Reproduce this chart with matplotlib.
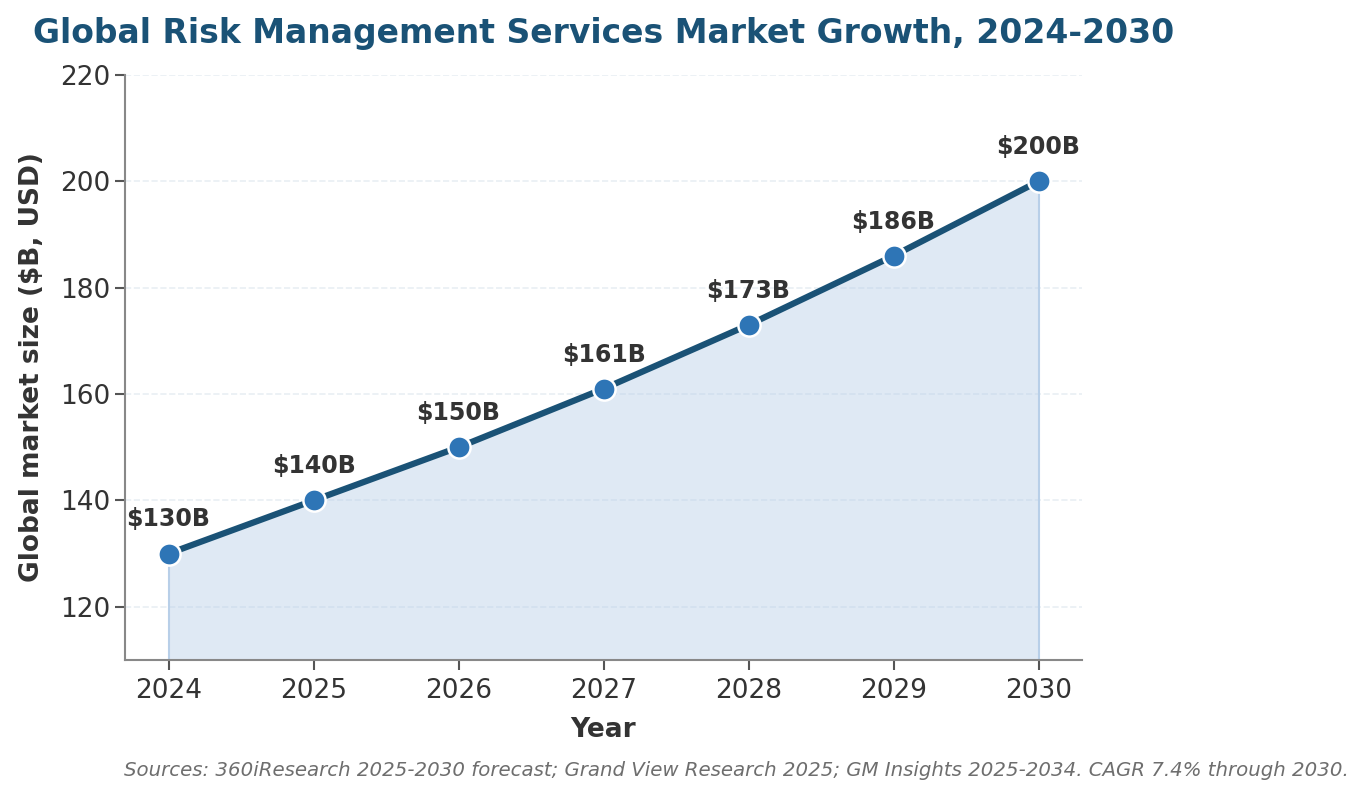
import matplotlib.pyplot as plt

years = [2024, 2025, 2026, 2027, 2028, 2029, 2030]
market_size = [130, 140, 150, 161, 173, 186, 200]
labels = ['$130B', '$140B', '$150B', '$161B', '$173B', '$186B', '$200B']
yticks = [120, 140, 160, 180, 200, 220]

fig = plt.figure(figsize=(13.69, 8), dpi=100)
ax = fig.add_axes([125 / 1369, 140 / 800, 957 / 1369, 585 / 800])

ax.fill_between(years, market_size, 110, color='#b8cfe8', alpha=0.45, linewidth=0)
ax.plot([years[0], years[0]], [110, market_size[0]], color='#b8cfe8', lw=1.5)
ax.plot([years[-1], years[-1]], [110, market_size[-1]], color='#b8cfe8', lw=1.5)
ax.plot(years, market_size, color='#1a5276', lw=4.5, zorder=3)
ax.plot(years, market_size, 'o', color='#2e75b6', markersize=16,
        markeredgecolor='white', markeredgewidth=1.8, zorder=4)

for x, y, t in zip(years, market_size, labels):
    ax.annotate(t, (x, y), xytext=(0, 16), textcoords='offset points',
                ha='center', va='bottom', fontsize=17, fontweight='bold',
                color='#333333')

ax.set_xlim(2023.7, 2030.3)
ax.set_ylim(110, 220)
ax.set_xticks(years)
ax.set_yticks(yticks)
ax.tick_params(labelsize=19, colors='#333333', length=7, width=1.5)
ax.tick_params(axis='x', pad=6)
ax.tick_params(axis='both', color='#555555')
ax.grid(axis='y', linestyle='--', color='#e3eaf0', lw=1.2, alpha=0.8)
ax.set_axisbelow(True)
for s in ['top', 'right']:
    ax.spines[s].set_visible(False)
for s in ['left', 'bottom']:
    ax.spines[s].set_color('#888888')
    ax.spines[s].set_linewidth(1.5)

ax.set_xlabel('Year', fontsize=19, fontweight='bold', color='#333333', labelpad=9)
ax.set_ylabel('Global market size ($B, USD)', fontsize=19, fontweight='bold',
              color='#333333', labelpad=11)

fig.text(33 / 1369, 1 - 33 / 800, 'Global Risk Management Services Market Growth, 2024-2030',
         fontsize=23.8, fontweight='bold', color='#1a5276', va='center', ha='left')
fig.text(1349 / 1369, 1 - 771 / 800,
         'Sources: 360iResearch 2025-2030 forecast; Grand View Research 2025; '
         'GM Insights 2025-2034. CAGR 7.4% through 2030.',
         fontsize=14.2, style='italic', color='#6e6e6e', ha='right', va='center')

fig.savefig('out.png', dpi=100)
